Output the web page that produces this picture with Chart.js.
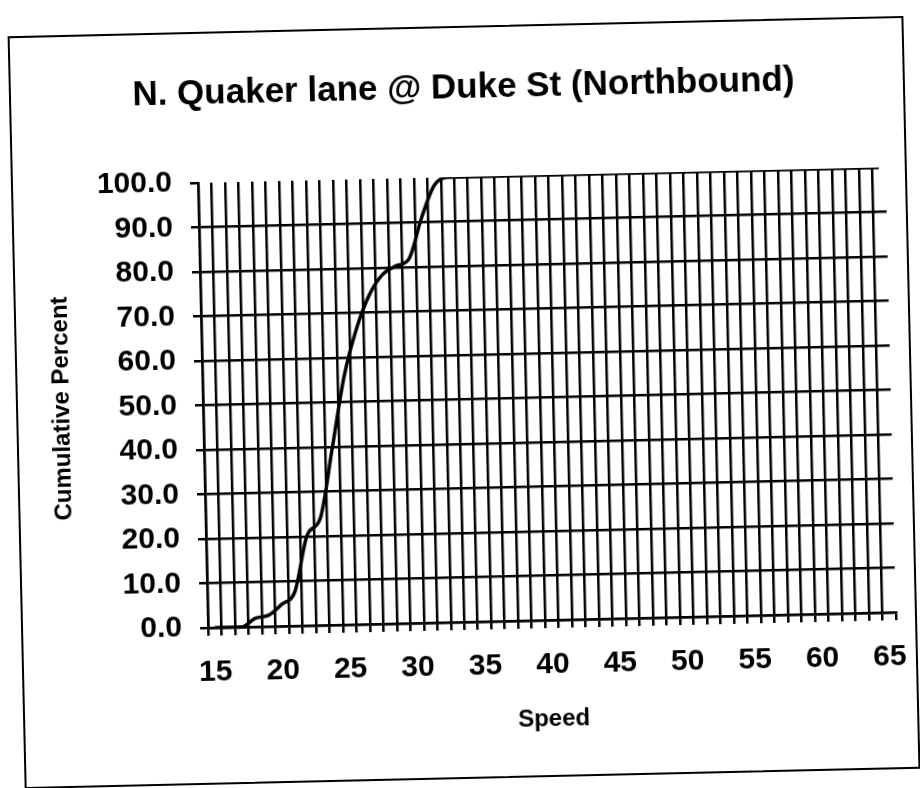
<!DOCTYPE html>
<html>
<head>
<meta charset="utf-8">
<title>N. Quaker lane @ Duke St (Northbound)</title>
<script src="https://cdn.jsdelivr.net/npm/chart.js@4.4.1/dist/chart.umd.min.js"></script>
<style>
    html, body { margin: 0; padding: 0; background: #fff; overflow: hidden; }
    #page {
        position: absolute; left: 0; top: 0; width: 920px; height: 788px;
        transform: rotate(-1.3deg); transform-origin: 550px 400px;
    }
    #box {
        position: absolute; left: 16px; top: 24px; width: 892px; height: 749px;
        border: 2px solid #000;
    }
    #speedChart { position: absolute; left: 0; top: 0; }
</style>
</head>
<body>
<div id="page">
    <div id="box"></div>
    <canvas id="speedChart" width="920" height="788"></canvas>
</div>
<script>
// Speed categories (mph)
const speeds = ["15", "16", "17", "18", "19", "20", "21", "22", "23", "24",
    "25", "26", "27", "28", "29", "30", "31", "32", "33", "34",
    "35", "36", "37", "38", "39", "40", "41", "42", "43", "44",
    "45", "46", "47", "48", "49", "50", "51", "52", "53", "54",
    "55", "56", "57", "58", "59", "60", "61", "62", "63", "64", "65"];

// Cumulative percent at each speed
const cumulativePercent = [0, 0, 0, 1.9, 2.5, 4.9, 7.7, 20.3, 24.0, 39.6,
    55.7, 66.4, 73.9, 78.4, 80.3, 81.8, 90.9, 98.2, 100, 100,
    100, 100, 100, 100, 100, 100, 100, 100, 100, 100,
    100, 100, 100, 100, 100, 100, 100, 100, 100, 100,
    100, 100, 100, 100, 100, 100, 100, 100, 100, 100, 100];

// Speeds that carry a label on the x axis
const speedTickLabels = ["15", "20", "25", "30", "35", "40", "45", "50", "55", "60", "65"];

const fontFamily = "'Liberation Sans', Arial, sans-serif";

const ctx = document.getElementById("speedChart").getContext("2d");
const speedChart = new Chart(ctx, {
    type: "line",
    data: {
        labels: speeds,
        datasets: [{
            label: "Cumulative Percent",
            data: cumulativePercent,
            borderColor: "#000",
            borderWidth: 3.5,
            pointRadius: 0,
            cubicInterpolationMode: "monotone",
            fill: false
        }]
    },
    options: {
        responsive: false,
        animation: false,
        devicePixelRatio: 1,
        layout: {
            padding: { left: 48, right: 27, top: 0, bottom: 54 }
        },
        plugins: {
            legend: { display: false },
            tooltip: { enabled: false },
            title: {
                display: true,
                text: "N. Quaker lane @ Duke St (Northbound)",
                color: "#000",
                font: { family: fontFamily, size: 35, weight: "bold" },
                padding: { top: 65, bottom: 68 }
            }
        },
        scales: {
            x: {
                offset: true,
                grid: {
                    offset: true,
                    // no gridline on the right edge of the plot, only the tick
                    color: (c) => c.tick ? "#000" : "rgba(0,0,0,0)",
                    tickColor: "#000",
                    lineWidth: 2.5,
                    tickLength: 8
                },
                border: { color: "#000", width: 2.5 },
                ticks: {
                    autoSkip: false,
                    maxRotation: 0,
                    padding: 19,
                    color: "#000",
                    font: { family: fontFamily, size: 30, weight: "bold" },
                    callback: function(value, index) {
                        const s = speeds[index];
                        return speedTickLabels.includes(s) ? s : "";
                    }
                },
                title: {
                    display: true,
                    text: "Speed",
                    color: "#000",
                    font: { family: fontFamily, size: 24, weight: "bold" },
                    padding: 0
                },
                afterFit: (scale) => { scale.height = 114; }
            },
            y: {
                min: 0,
                max: 100,
                grid: {
                    // top line at 100 is left out, only its tick mark shows
                    color: (c) => (c.tick && c.tick.value === 100) ? "rgba(0,0,0,0)" : "#000",
                    tickColor: "#000",
                    lineWidth: 2.5,
                    tickLength: 8
                },
                border: { color: "#000", width: 2.5 },
                ticks: {
                    stepSize: 10,
                    padding: 18,
                    color: "#000",
                    font: { family: fontFamily, size: 30, weight: "bold" },
                    callback: (v) => v.toFixed(1)
                },
                title: {
                    display: true,
                    text: "Cumulative Percent",
                    color: "#000",
                    font: { family: fontFamily, size: 24, weight: "bold" },
                    padding: 0
                },
                afterFit: (scale) => { scale.width = 155; }
            }
        }
    }
});
</script>
</body>
</html>
